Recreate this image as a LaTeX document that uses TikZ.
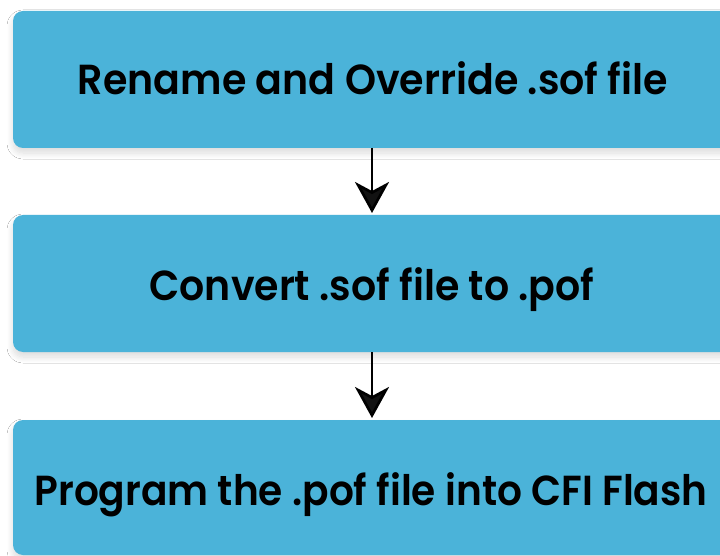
\documentclass[tikz,border=0pt]{standalone}
\usepackage{fontspec}
\setmainfont{Poppins}[BoldFont={* SemiBold}]
\usetikzlibrary{arrows.meta,shadows.blur}
\definecolor{boxblue}{HTML}{4BB3D9}
\tikzset{
  x=1pt,y=-1pt,
  stepbox/.style={fill=boxblue, rounded corners=10pt,
    blur shadow={shadow xshift=0pt, shadow yshift=-5pt, shadow blur radius=6pt, shadow blur steps=12, shadow opacity=14}},
  steplabel/.style={font=\fontsize{42}{50}\selectfont\bfseries, text=black, inner sep=0pt, anchor=base},
  flow/.style={line width=2.7pt, -{Stealth[length=31pt, width=34pt, inset=9pt]}}
}
\begin{document}
\begin{tikzpicture}
\useasboundingbox (0,0) rectangle (720,556);
\clip (0,0) rectangle (720,556);
\fill[white] (0,0) rectangle (720,556);
\path[stepbox] (13,11) rectangle (760,148);
\path[stepbox] (13,215) rectangle (760,352);
\path[stepbox] (13,420) rectangle (760,555);
\coordinate (b1) at (372,148);
\coordinate (t2) at (372,213);
\coordinate (b2) at (372,352);
\coordinate (t3) at (372,418);
\node[steplabel] (l1) at (373,95) {\resizebox{590pt}{\height}{Rename and Override .sof file}};
\node[steplabel] (l2) at (372,300) {\resizebox{445pt}{\height}{Convert .sof file to .pof}};
\node[steplabel] (l3) at (371,505) {\resizebox{673pt}{\height}{Program the .pof file into CFI Flash}};
\draw[flow] (b1) -- (t2);
\draw[flow] (b2) -- (t3);
\end{tikzpicture}
\end{document}
